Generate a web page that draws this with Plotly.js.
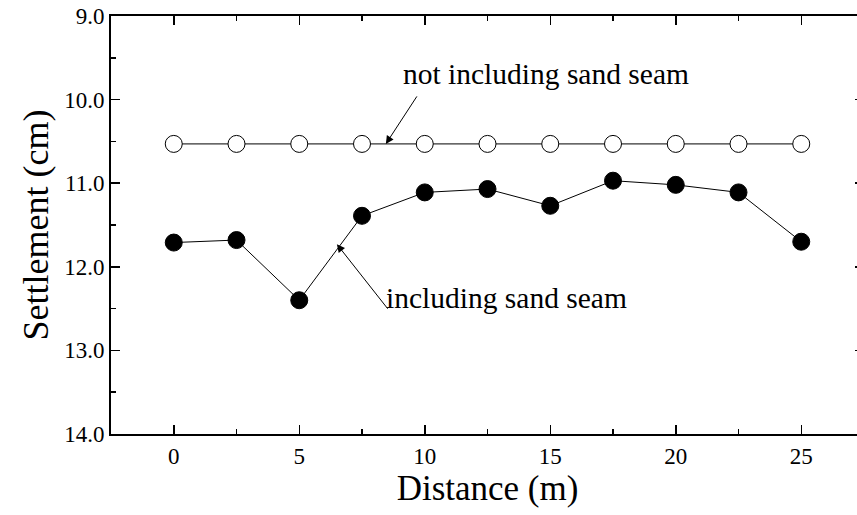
<!DOCTYPE html>
<html>
<head>
<meta charset="utf-8">
<script src="https://cdn.plot.ly/plotly-3.0.1.min.js"></script>
<style>
html,body{margin:0;padding:0;overflow:hidden;background:#fff;}
#chart{width:866px;height:515px;}
</style>
</head>
<body>
<div id="chart"></div>
<script>
const distance = [0, 2.5, 5, 7.5, 10, 12.5, 15, 17.5, 20, 22.5, 25];
const notIncludingSeam = [10.53, 10.53, 10.53, 10.53, 10.53, 10.53, 10.53, 10.53, 10.53, 10.53, 10.53];
const includingSeam = [11.71, 11.68, 12.40, 11.39, 11.11, 11.07, 11.27, 10.97, 11.02, 11.11, 11.70];
const yTickVals = [9, 10, 11, 12, 13, 14];
const xTickVals = [0, 5, 10, 15, 20, 25];
const labelNot = "not including sand seam";
const labelInc = "including sand seam";

const font = "Liberation Serif";

const traces = [
  {
    x: distance, y: notIncludingSeam, mode: "lines+markers", type: "scatter",
    line: {color: "#000", width: 1},
    marker: {symbol: "circle", size: 17, color: "#fff", line: {color: "#000", width: 1}},
    showlegend: false, cliponaxis: false
  },
  {
    x: distance, y: includingSeam, mode: "lines+markers", type: "scatter",
    line: {color: "#000", width: 1},
    marker: {symbol: "circle", size: 17, color: "#000", line: {color: "#000", width: 1}},
    showlegend: false, cliponaxis: false
  }
];

const layout = {
  width: 866, height: 515,
  margin: {l: 111, r: 2, t: 16, b: 81},
  paper_bgcolor: "#fff", plot_bgcolor: "#fff",
  font: {family: font, color: "#000", size: 23},
  xaxis: {
    range: [-2.5, 27.5], tickvals: xTickVals,
    ticks: "inside", ticklen: 9, tickwidth: 1.5, tickcolor: "#000",
    minor: {dtick: 2.5, tick0: 0, ticks: "inside", ticklen: 5, tickwidth: 1.5, tickcolor: "#000"},
    showline: true, linewidth: 2, linecolor: "#000", mirror: "ticks",
    showgrid: false, zeroline: false,
    tickfont: {family: font, size: 23},
    title: {text: "Distance (m)", font: {family: font, size: 35}, standoff: 1}
  },
  yaxis: {
    range: [14, 9], tickvals: yTickVals, tickformat: ".1f",
    ticks: "inside", ticklen: 9, tickwidth: 1.5, tickcolor: "#000",
    minor: {dtick: 0.5, tick0: 9, ticks: "inside", ticklen: 5, tickwidth: 1.5, tickcolor: "#000"},
    showline: true, linewidth: 2, linecolor: "#000", mirror: "ticks",
    showgrid: false, zeroline: false,
    tickfont: {family: font, size: 23},
    title: {text: "Settlement (cm)", font: {family: font, size: 36}, standoff: 5}
  },
  annotations: [
    {
      x: 8.45, y: 10.53, xref: "x", yref: "y",
      ax: 32, ay: -49,
      text: "", showarrow: true, arrowhead: 2, arrowsize: 1.6, arrowwidth: 1, arrowcolor: "#000"
    },
    {
      x: 6.5, y: 11.73, xref: "x", yref: "y",
      ax: 52, ay: 66,
      text: "", showarrow: true, arrowhead: 2, arrowsize: 1.6, arrowwidth: 1, arrowcolor: "#000"
    },
    {
      x: 14.85, y: 9.69, xref: "x", yref: "y",
      text: labelNot, showarrow: false, font: {family: font, size: 29.5}
    },
    {
      x: 13.24, y: 12.37, xref: "x", yref: "y",
      text: labelInc, showarrow: false, font: {family: font, size: 29.5}
    }
  ]
};

Plotly.newPlot("chart", traces, layout, {displayModeBar: false, staticPlot: true});
</script>
</body>
</html>
